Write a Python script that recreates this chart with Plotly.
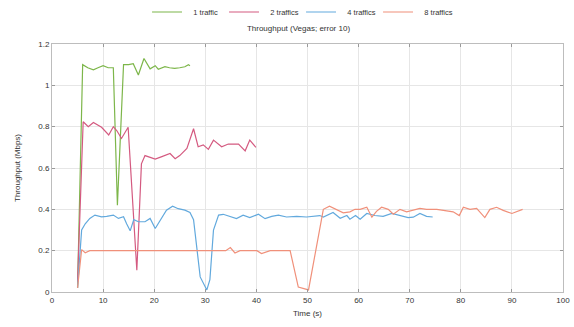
import plotly.graph_objects as go

# 1 traffic
t1 = [5, 6, 7, 8.1, 9, 10, 11, 12, 12.8, 14, 15, 15.9, 16.9, 18, 19.2, 20.2, 20.8, 22.1, 23, 24, 25, 26, 26.7, 27]
v1 = [0.02, 1.10, 1.085, 1.075, 1.085, 1.095, 1.085, 1.085, 0.42, 1.10, 1.10, 1.105, 1.05, 1.13, 1.08, 1.095, 1.078, 1.09, 1.085, 1.082, 1.085, 1.09, 1.10, 1.095]

# 2 traffics
t2 = [5, 6.1, 7.1, 8.1, 9.7, 11.1, 12.0, 12.7, 13.6, 14.9, 16.6, 17.5, 18.2, 20.2, 21.5, 23.1, 24.1, 25.0, 26.4, 27.7, 28.6, 29.6, 30.6, 31.6, 33.2, 34.5, 36.5, 37.8, 38.7, 39.9]
v2 = [0.05, 0.824, 0.80, 0.82, 0.797, 0.76, 0.80, 0.78, 0.743, 0.797, 0.105, 0.62, 0.66, 0.643, 0.655, 0.67, 0.645, 0.66, 0.695, 0.79, 0.703, 0.712, 0.69, 0.735, 0.703, 0.716, 0.716, 0.683, 0.735, 0.70]

# 4 traffics
t4 = [5, 5.8, 6.5, 7.4, 8.4, 9.7, 10.7, 12.0, 13.0, 14.0, 14.6, 15.3, 16.0, 16.9, 18.2, 19.2, 20.2, 21.5, 22.4, 23.6, 24.7, 26.0, 27.0, 27.7, 29.0, 30.3, 30.9, 31.6, 32.6, 33.5, 34.9, 36.1, 37.4, 38.7, 40.4, 41.7, 43.0, 44.3, 45.9, 47.9, 49.8, 51.8, 52.4, 53.1, 55.0, 56.4, 57.7, 58.3, 59.4, 60.3, 61.6, 63.2, 64.8, 66.5, 68.1, 69.7, 70.7, 72.0, 73.3, 74.5]
v4 = [0.02, 0.30, 0.33, 0.356, 0.372, 0.364, 0.366, 0.372, 0.356, 0.364, 0.33, 0.296, 0.35, 0.34, 0.34, 0.356, 0.307, 0.364, 0.396, 0.415, 0.403, 0.396, 0.385, 0.35, 0.073, 0.01, 0.06, 0.30, 0.372, 0.376, 0.366, 0.355, 0.372, 0.36, 0.376, 0.355, 0.366, 0.372, 0.363, 0.366, 0.363, 0.366, 0.37, 0.363, 0.385, 0.357, 0.37, 0.352, 0.37, 0.352, 0.38, 0.37, 0.366, 0.38, 0.37, 0.36, 0.362, 0.38, 0.366, 0.363]

# 8 traffics
t8 = [5, 5.8, 6.5, 7.4, 10, 15, 20, 25, 30, 34, 34.9, 35.8, 36.8, 40.1, 41.0, 42.7, 46.6, 48.2, 50.2, 53.1, 54.3, 57.0, 58.3, 59.3, 60.3, 61.6, 62.6, 63.5, 64.5, 65.8, 66.8, 68.1, 69.4, 71.0, 72.0, 73.3, 75.3, 76.6, 78.5, 79.7, 80.5, 81.8, 83.1, 84.7, 85.7, 87.0, 88.3, 90.0, 90.9, 92.1]
v8 = [0.02, 0.205, 0.19, 0.20, 0.20, 0.20, 0.20, 0.20, 0.20, 0.20, 0.215, 0.189, 0.20, 0.20, 0.186, 0.20, 0.20, 0.024, 0.01, 0.40, 0.415, 0.383, 0.388, 0.40, 0.40, 0.41, 0.362, 0.39, 0.41, 0.40, 0.376, 0.40, 0.388, 0.40, 0.405, 0.40, 0.40, 0.395, 0.388, 0.37, 0.41, 0.40, 0.405, 0.36, 0.40, 0.41, 0.395, 0.38, 0.388, 0.40]

names = ["1 traffic", "2 traffics", "4 traffics", "8 traffics"]
colors = ["#7db64a", "#d45a80", "#62a9dd", "#f0907a"]
x_ticks = [0, 10, 20, 30, 40, 50, 60, 70, 80, 90, 100]
y_ticks = [0, 0.2, 0.4, 0.6, 0.8, 1, 1.2]
y_ticklabels = ["0", "0.2", "0.4", "0.6", "0.8", "1", "1.2"]

series = [(t1, v1), (t2, v2), (t4, v4), (t8, v8)]

fig = go.Figure()
for (t, v), name, c in zip(series, names, colors):
    fig.add_trace(go.Scatter(x=t, y=v, mode="lines", name="\u00a0\u00a0\u00a0" + name,
                             line=dict(color=c, width=1.2)))

FONT = "Liberation Sans"
fig.update_layout(
    width=574, height=327,
    margin=dict(l=52, r=11, t=44, b=35),
    paper_bgcolor="white", plot_bgcolor="white",
    font=dict(family=FONT, size=8, color="#333333"),
    title=dict(text="Throughput (Vegas; error 10)", x=0.52, xanchor="center",
               y=1 - 28 / 327, yanchor="middle", yref="container",
               font=dict(family=FONT, size=8, color="#333333")),
    showlegend=True,
    legend=dict(orientation="h", x=0.186, xanchor="left", y=1 - 12 / 327, yref="container",
                yanchor="middle", font=dict(family=FONT, size=7.5, color="#333333"),
                entrywidth=32, entrywidthmode="pixels", bgcolor="rgba(0,0,0,0)",
                itemclick=False),
    xaxis=dict(range=[0, 100], tickvals=x_ticks, showgrid=True, gridcolor="#e6e6e6",
               gridwidth=1, zeroline=False, showline=True, linecolor="#bdbdbd", linewidth=1,
               mirror="allticks", ticks="inside", ticklen=3, tickcolor="#999999",
               automargin=False,
               title=dict(text="Time (s)", standoff=6, font=dict(size=8)),
               tickfont=dict(size=8)),
    yaxis=dict(range=[0, 1.2], tickvals=y_ticks, ticktext=y_ticklabels, showgrid=True,
               gridcolor="#e6e6e6", gridwidth=1, zeroline=False, showline=True,
               linecolor="#bdbdbd", linewidth=1, mirror="allticks", ticks="inside",
               ticklen=3, tickcolor="#999999", automargin=False,
               title=dict(text="Throughput (Mbps)", standoff=16, font=dict(size=8)),
               tickfont=dict(size=8)),
)

fig.write_html("out.html", config={"displayModeBar": False},
               post_script="document.body.style.margin='0';")
